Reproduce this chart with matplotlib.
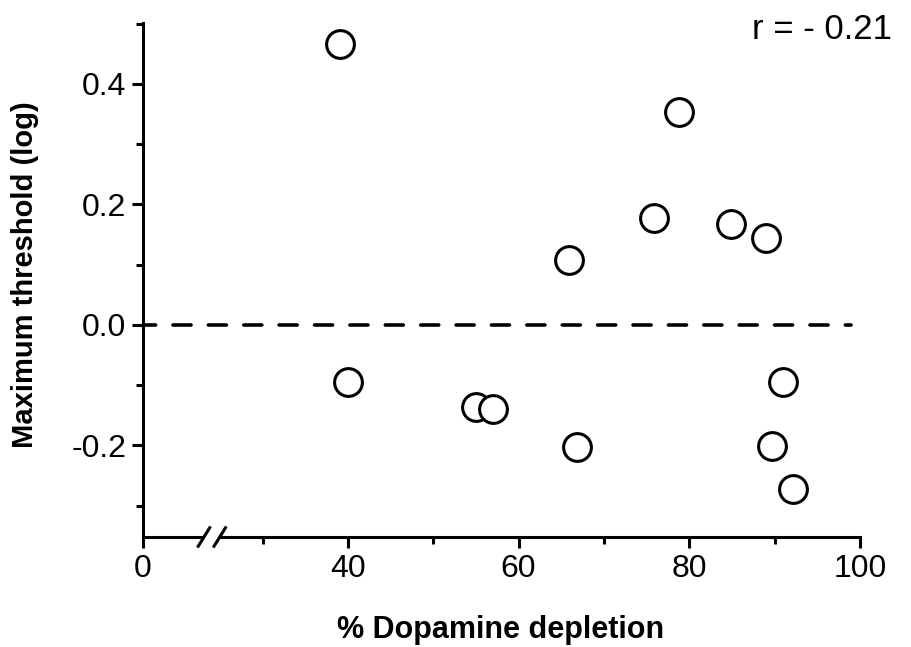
import numpy as np
import matplotlib
matplotlib.use("Agg")
import matplotlib.pyplot as plt
from matplotlib.ticker import FixedLocator, FixedFormatter

plt.rcParams['font.family'] = ['Liberation Sans', 'DejaVu Sans']

# % dopamine depletion vs. maximum threshold (log units)
depletion = [39.1, 40.0, 55.0, 57.0, 65.9, 66.8, 75.9, 78.8, 84.9, 89.0, 89.7, 91.0, 92.1]
threshold = [0.466, -0.095, -0.136, -0.139, 0.108, -0.202, 0.178, 0.354, 0.168, 0.144, -0.201, -0.095, -0.272]

x_major = [0, 40, 60, 80, 100]
x_major_labels = ["0", "40", "60", "80", "100"]
x_minor = [30, 50, 70, 90]
y_major = [-0.2, 0.0, 0.2, 0.4]
y_major_labels = ["-0.2", "0.0", "0.2", "0.4"]
y_minor = [-0.3, -0.1, 0.1, 0.3, 0.5]
r_text = "r = - 0.21"

# broken x axis: values below 25 are squeezed into a short stub
BREAK, STUB = 25.0, 16.0

def fwd(x):
    x = np.asarray(x, dtype=float)
    return np.where(x >= BREAK, x, STUB + x * (BREAK - STUB) / BREAK)

def inv(y):
    y = np.asarray(y, dtype=float)
    return np.where(y >= BREAK, y, (y - STUB) * BREAK / (BREAK - STUB))

fig = plt.figure(figsize=(9.11, 6.47), dpi=100)
ax = fig.add_axes([0.157, 0.170, 0.787, 0.7945])
ax.set_xscale('function', functions=(fwd, inv))

ax.plot(depletion, threshold, linestyle='none', marker='o', markersize=20,
        markerfacecolor='white', markeredgecolor='black', markeredgewidth=2.2,
        zorder=3)

# zero reference line
ax.plot([0, 99.0], [0, 0], linestyle=(1.5, (5.0, 4.8)), color='black',
        linewidth=2.6, dash_capstyle='round', zorder=2)

ax.set_xlim(0, 100)
ax.set_ylim(-0.352, 0.501)

ax.xaxis.set_major_locator(FixedLocator(x_major))
ax.xaxis.set_major_formatter(FixedFormatter(x_major_labels))
ax.xaxis.set_minor_locator(FixedLocator(x_minor))
ax.yaxis.set_major_locator(FixedLocator(y_major))
ax.yaxis.set_major_formatter(FixedFormatter(y_major_labels))
ax.yaxis.set_minor_locator(FixedLocator(y_minor))

for s in ['top', 'right']:
    ax.spines[s].set_visible(False)
for s in ['left', 'bottom']:
    ax.spines[s].set_linewidth(2.2)

ax.tick_params(which='major', direction='out', length=8, width=2.2,
               labelsize=23, pad=4)
ax.tick_params(which='minor', direction='out', length=5, width=2.2)

ax.set_xlabel("% Dopamine depletion", fontsize=22, fontweight='bold')
ax.set_ylabel("Maximum threshold (log)", fontsize=21, fontweight='bold')
ax.xaxis.set_label_coords(0.498, -0.181)
ax.yaxis.set_label_coords(-0.165, 0.51)
ax.xaxis.label.set_va('center')
ax.yaxis.label.set_va('center')

# axis break marks
bx = 0.096
for dx in (-0.011, 0.011):
    ax.plot([bx + dx - 0.008, bx + dx + 0.008], [-0.018, 0.018],
            transform=ax.transAxes, color='black', linewidth=2.2,
            clip_on=False, zorder=4)
ax.fill_between([bx - 0.009, bx + 0.009], [-0.004, -0.004], [0.004, 0.004],
                transform=ax.transAxes, color='white', zorder=3.5, clip_on=False)

fig.text(752 / 911, 1 - 39 / 647, r_text, fontsize=25, ha='left', va='baseline')

fig.savefig("out.png", dpi=100)
